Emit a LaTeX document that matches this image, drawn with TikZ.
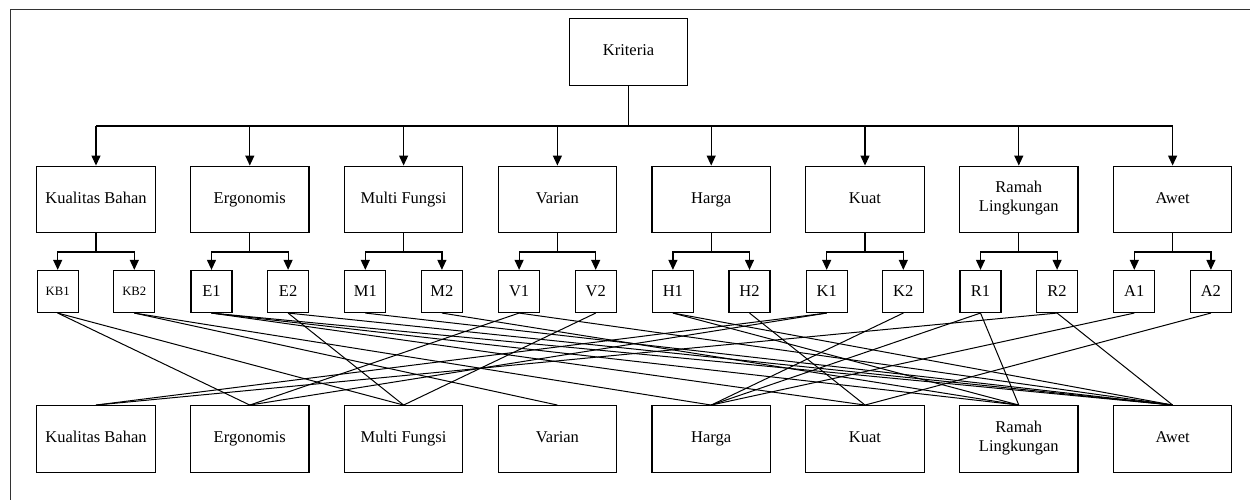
\documentclass[tikz,border=0pt]{standalone}
\usepackage{fontspec}
\setmainfont{Liberation Serif}
\usetikzlibrary{arrows.meta}
\newcommand\kbfnt{\fontsize{12.7}{14}\selectfont}
\begin{document}
\begin{tikzpicture}[x=1pt,y=-1pt,
  box/.style={draw,line width=1.2pt,minimum width=118.5pt,minimum height=66.7pt,inner sep=1pt,align=center,font=\fontsize{16.5}{19}\selectfont,execute at begin node=\strut},
  subbox/.style={draw,line width=1.2pt,minimum width=41pt,minimum height=42pt,inner sep=0pt,font=\fontsize{16.5}{19}\selectfont},
  arr/.style={line width=1.2pt,-{Triangle[length=10pt,width=9pt]}},
  tree/.style={line width=1.2pt},
  bus/.style={line width=2pt},
  link/.style={line width=1pt}
]
\useasboundingbox (0,0) rectangle (1250,499);
\draw[line width=1pt,black!80] (10,9) rectangle (1270,520);

\node[box] (top) at (628.5,52) {Kriteria};

\foreach \n/\x/\t in {cKB/96/Kualitas Bahan, cE/249.8/Ergonomis, cM/403.6/Multi Fungsi, cV/557.4/Varian, cH/711.2/Harga, cK/865/Kuat, cR/1018.8/Ramah\\Lingkungan, cA/1172.6/Awet}
  \node[box] (\n) at (\x,199.5) {\t};

\foreach \n/\x/\t in {bKB/96/Kualitas Bahan, bE/249.8/Ergonomis, bM/403.6/Multi Fungsi, bV/557.4/Varian, bH/711.2/Harga, bK/865/Kuat, bR/1018.8/Ramah\\Lingkungan, bA/1172.6/Awet}
  \node[box] (\n) at (\x,439) {\t};

\coordinate (busL) at (96,125.7);
\coordinate (busR) at (1172.6,125.7);
\draw[tree] (top.south) -- (628.5,125.7);
\draw[bus] (cKB.north |- busL) -- (cA.north |- busR);
\foreach \n in {cKB,cE,cM,cV,cH,cK,cR,cA}
  \draw[arr] (\n.north |- busL) -- (\n.north);

\foreach \p/\a/\b/\ta/\tb in {cKB/kb1/kb2/{\kbfnt KB1}/{\kbfnt KB2}, cE/e1/e2/E1/E2, cM/m1/m2/M1/M2, cV/v1/v2/V1/V2, cH/h1/h2/H1/H2, cK/k1/k2/K1/K2, cR/r1/r2/R1/R2, cA/a1/a2/A1/A2}{
  \path (\p.south) ++(-38.3,58) node[subbox] (\a) {\ta};
  \path (\p.south) ++(38.3,58) node[subbox] (\b) {\tb};
  \draw[tree] (\p.south) -- ++(0,18.5) coordinate (\p br);
  \draw[arr] (\p br) -| (\a.north);
  \draw[arr] (\p br) -| (\b.north);
}

\foreach \s/\d in {kb1/bE, kb1/bM, kb2/bV, kb2/bH, e1/bK, e1/bR, e1/bA, e2/bM, e2/bA, m1/bA, m2/bR, v1/bE, v1/bA, v2/bM, h1/bR, h1/bA, h2/bK, k1/bKB, k1/bE, k2/bH, r1/bH, r1/bR, r2/bKB, r2/bA, a1/bH, a2/bK}
  \draw[link] (\s.south) -- (\d.north);
\end{tikzpicture}
\end{document}
